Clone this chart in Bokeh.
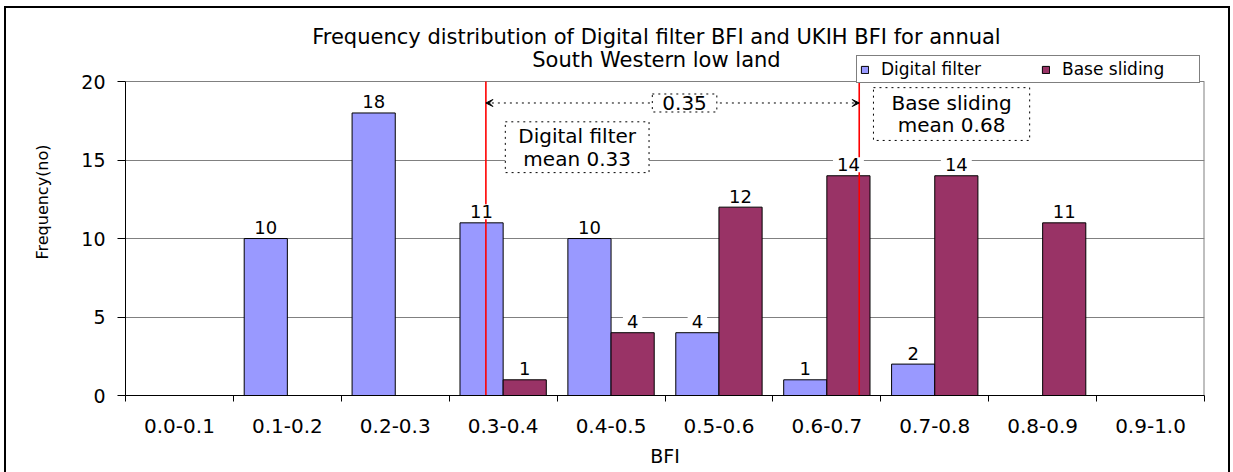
from bokeh.plotting import figure
from bokeh.models import (Range1d, FixedTicker, Label, Arrow, VeeHead,
                          Legend, LegendItem)
from bokeh.embed import file_html
from bokeh.resources import INLINE

# ---------------- data ----------------
categories = ["0.0-0.1", "0.1-0.2", "0.2-0.3", "0.3-0.4", "0.4-0.5",
              "0.5-0.6", "0.6-0.7", "0.7-0.8", "0.8-0.9", "0.9-1.0"]
bin_edges = [0.0, 0.1, 0.2, 0.3, 0.4, 0.5, 0.6, 0.7, 0.8, 0.9, 1.0]
digital_filter = [0, 10, 18, 11, 10, 4, 1, 2, 0, 0]
base_sliding = [0, 0, 0, 1, 4, 12, 14, 14, 11, 0]
digital_mean = 0.334
base_mean = 0.68
mean_difference = 0.35
y_ticks = [0, 5, 10, 15, 20]
y_max = 20
title_lines = ["Frequency distribution of Digital filter BFI and UKIH BFI for annual",
               "South Western low land"]

FONT = "DejaVu Sans"
BLUE = "#9999FF"
MAROON = "#993366"
GREY = "#808080"
TXT = "black"

centers = [(a + b) / 2 for a, b in zip(bin_edges[:-1], bin_edges[1:])]
df_x = [c - 0.02 for c in centers]
bs_x = [c + 0.02 for c in centers]

# ---------------- layout (page pixels) ----------------
CANVAS_X, CANVAS_Y = 6, 8          # after 4/6 px margin and 2 px border
W, H = 1222, 464
FRAME_L, FRAME_R, Y0 = 125, 1200, 393
PX_PER_UNIT = 15.615
y_top = (Y0 - CANVAS_Y) / PX_PER_UNIT

def xd(px):
    return (px - FRAME_L) / (FRAME_R - FRAME_L)

def yd(py):
    return (Y0 - py) / PX_PER_UNIT

p = figure(width=W, height=H, x_range=Range1d(0, 1), y_range=Range1d(0, y_top),
           output_backend="svg", toolbar_location=None,
           min_border_left=FRAME_L - CANVAS_X,
           min_border_right=W - (FRAME_R - CANVAS_X),
           min_border_top=0,
           min_border_bottom=H - (Y0 - CANVAS_Y),
           styles={"box-sizing": "content-box",
                   "margin-left": "4px", "margin-top": "6px",
                   "border-top": "2px solid black", "border-left": "2px solid black",
                   "border-right": "2px solid black"})
p.outline_line_color = None
p.background_fill_color = "white"
p.border_fill_color = "white"

# bars
r1 = p.vbar(x=df_x, top=digital_filter, width=0.04, fill_color=BLUE,
            line_color="black", line_width=1)
r2 = p.vbar(x=bs_x, top=base_sliding, width=0.04, fill_color=MAROON,
            line_color="black", line_width=1)

# right edge of the plot area
p.segment(x0=[1.0], y0=[0], x1=[1.0], y1=[y_max], line_color=GREY, line_width=2)

# mean lines
p.segment(x0=[digital_mean, base_mean], y0=[0, 0], x1=[digital_mean, base_mean],
          y1=[y_max, y_max], line_color="red", line_width=1.6)

# axes
xaxis = p.xaxis[0]
xaxis.ticker = FixedTicker(ticks=centers, minor_ticks=bin_edges)
xaxis.major_label_overrides = {c: lab for c, lab in zip(centers, categories)}
xaxis.major_tick_out = 0
xaxis.major_tick_in = 0
xaxis.minor_tick_out = 6
xaxis.minor_tick_in = 0
xaxis.major_label_standoff = 17
xaxis.major_label_text_font = FONT
xaxis.major_label_text_font_size = "20px"
xaxis.major_label_text_color = TXT
xaxis.axis_label = "BFI"
xaxis.axis_label_text_font = FONT
xaxis.axis_label_text_font_size = "19px"
xaxis.axis_label_text_font_style = "normal"
xaxis.axis_label_text_color = TXT
xaxis.axis_label_standoff = 9
xaxis.axis_line_color = "black"
xaxis.minor_tick_line_color = "black"

yaxis = p.yaxis[0]
yaxis.bounds = (0, y_max)
yaxis.ticker = FixedTicker(ticks=y_ticks, minor_ticks=[])
yaxis.major_tick_out = 8
yaxis.major_tick_in = 0
yaxis.major_label_standoff = 12
yaxis.major_label_text_font = FONT
yaxis.major_label_text_font_size = "19px"
yaxis.major_label_text_color = TXT
yaxis.axis_label = "Frequency(no)"
yaxis.axis_label_text_font = FONT
yaxis.axis_label_text_font_size = "16px"
yaxis.axis_label_text_font_style = "normal"
yaxis.axis_label_text_color = TXT
yaxis.axis_label_standoff = 26
yaxis.axis_line_color = "black"

p.xgrid.visible = False
p.ygrid.ticker = FixedTicker(ticks=y_ticks[1:])
p.ygrid.grid_line_color = GREY
p.ygrid.grid_line_width = 1

# value labels above bars
for xs, vals in ((df_x, digital_filter), (bs_x, base_sliding)):
    for x, v in zip(xs, vals):
        if v > 0:
            p.add_layout(Label(x=x, y=v, text=str(v), y_offset=11,
                               text_align="center", text_baseline="alphabetic",
                               text_font=FONT, text_font_size="18px",
                               text_color=TXT,
                               background_fill_color="white", padding=(4, 1)))

# dotted double arrow between means
p.add_layout(Arrow(start=VeeHead(size=7, line_color="black", fill_color="black"),
                   end=VeeHead(size=7, line_color="black", fill_color="black"),
                   x_start=digital_mean, x_end=base_mean,
                   y_start=yd(102), y_end=yd(102),
                   line_dash="dotted", line_width=1, line_color="black"))

box_style = dict(text_font=FONT, text_align="center", text_baseline="middle",
                 text_color=TXT,
                 background_fill_color="white", border_line_color="black",
                 border_line_dash="dotted", border_line_width=1)
p.add_layout(Label(x=xd(682), y=yd(102), text=f"{mean_difference:.2f}",
                   text_font_size="20px", padding=(10, 2), **box_style))
p.add_layout(Label(x=xd(575), y=yd(146), text=f"Digital filter\nmean {digital_mean:.2f}",
                   text_font_size="20px", text_line_height=0.95, padding=(13, 2),
                   **box_style))
p.add_layout(Label(x=xd(948), y=yd(113), text=f"Base sliding\nmean {base_mean:.2f}",
                   text_font_size="20px", text_line_height=0.95, padding=(18, 3),
                   **box_style))

# title (two lines)
for line, base_y in zip(title_lines, (36.7, 59.3)):
    p.add_layout(Label(x=xd(654), y=yd(base_y), text=line, text_align="center",
                       text_baseline="alphabetic", text_font=FONT,
                       text_font_size="21px", text_color=TXT))

# legend sitting on the top-right of the plot area
legend = Legend(items=[LegendItem(label="Digital filter", renderers=[r1]),
                       LegendItem(label="Base sliding", renderers=[r2])],
                orientation="horizontal",
                location=(856 - FRAME_L, Y0 - 81), margin=0,
                padding=3, spacing=26, label_standoff=12,
                glyph_width=9, glyph_height=9, label_width=134, label_height=18,
                label_text_font=FONT, label_text_font_size="17px",
                label_text_color=TXT,
                border_line_color="black", border_line_width=1,
                background_fill_color="white", background_fill_alpha=1.0)
p.add_layout(legend)

open("out.html", "w").write(file_html(p, INLINE))
